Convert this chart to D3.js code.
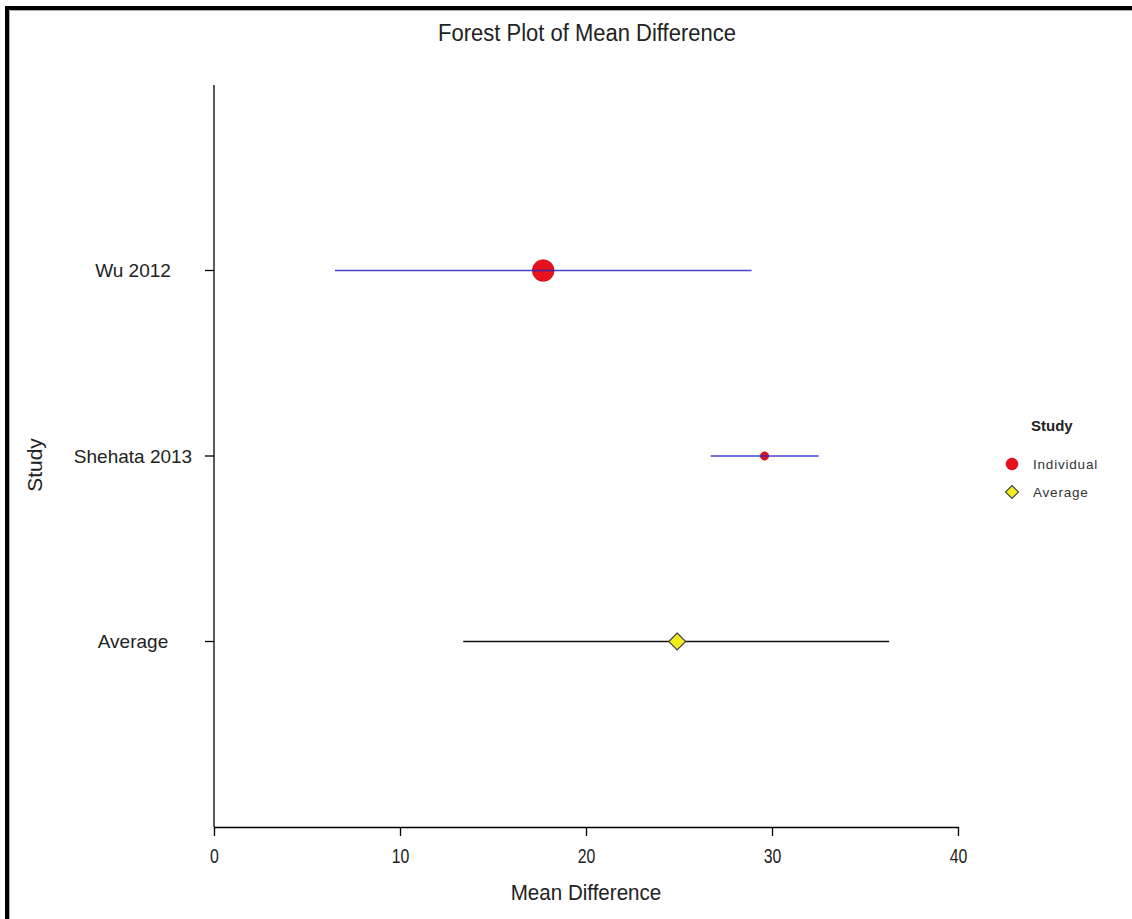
<!DOCTYPE html>
<html><head><meta charset="utf-8">
<script src="https://cdn.jsdelivr.net/npm/d3@7"></script>
<style>body{margin:0;background:#fff}svg{display:block}text{font-family:"Liberation Sans",Arial,sans-serif}</style>
</head><body>
<script>
const studies = ["Wu 2012", "Shehata 2013", "Average"];
const estimates = [17.7, 29.6, 24.9];
const lower = [6.5, 26.7, 13.4];
const upper = [28.9, 32.5, 36.3];
const weights = [0.92, 0.08, null];
const kinds = ["Individual", "Individual", "Average"];
const xTicks = [0, 10, 20, 30, 40];
const legendItems = ["Individual", "Average"];

(function(){
const W = 1132, H = 919;
const svg = d3.select("body").append("svg").attr("width", W).attr("height", H);
svg.append("rect").attr("width", W).attr("height", H).attr("fill", "#fff");
// frame
svg.append("path").attr("d", `M7,${H} V8 H${W}`).attr("fill", "none").attr("stroke", "#000").attr("stroke-width", 4);
svg.append("path").attr("d", `M9.5,${H} V10.5 H${W}`).attr("fill", "none").attr("stroke", "#aaa").attr("stroke-width", 1);

const mL = 214, mR = 958, mT = 85, mB = 827;
const x = d3.scaleLinear().domain([0, 40]).range([mL, mR]);
const y = d3.scaleLinear().domain([0, 4]).range([mB, mT]);
const yPos = i => y(studies.length - i);

// axes
const xAxis = d3.axisBottom(x).tickValues(xTicks).tickSize(9).tickSizeOuter(0);
const gx = svg.append("g").attr("transform", `translate(0,${mB})`).call(xAxis);
gx.select(".domain").attr("stroke", "#000").attr("stroke-width", 1.3);
gx.selectAll(".tick line").attr("stroke", "#000").attr("stroke-width", 1.3);
gx.selectAll(".tick text").attr("font-size", 18).attr("fill", "#222").attr("y", 0)
  .attr("dy", 0).attr("transform", "translate(0,36) scale(0.88,1.1)")
  .attr("font-family", "'Liberation Sans',Arial,sans-serif");

svg.append("line").attr("x1", mL).attr("x2", mL).attr("y1", mT).attr("y2", mB)
  .attr("stroke", "#000").attr("stroke-width", 1.3);
const yg = svg.append("g");
studies.forEach((s, i) => {
  yg.append("line").attr("x1", mL - 9).attr("x2", mL).attr("y1", yPos(i)).attr("y2", yPos(i))
    .attr("stroke", "#000").attr("stroke-width", 1.3);
  yg.append("text").attr("x", 133).attr("y", yPos(i)).attr("dy", "0.36em").attr("text-anchor", "middle")
    .attr("font-size", 19).attr("fill", "#222").text(s);
});

// CI lines and points
studies.forEach((s, i) => {
  const isAvg = kinds[i] === "Average";
  const cy = yPos(i);
  if (isAvg) {
    svg.append("line").attr("x1", x(lower[i])).attr("x2", x(upper[i])).attr("y1", cy).attr("y2", cy)
      .attr("stroke", "#111").attr("stroke-width", 1.5);
    const r = 8.5;
    const cx = x(estimates[i]);
    svg.append("path").attr("d", `M${cx},${cy - r} L${cx + r},${cy} L${cx},${cy + r} L${cx - r},${cy} Z`)
      .attr("fill", "#f2ec1c").attr("stroke", "#444").attr("stroke-width", 1.2);
  } else {
    const r = 3.5 + 8 * weights[i];
    svg.append("circle").attr("cx", x(estimates[i])).attr("cy", cy).attr("r", r)
      .attr("fill", "#e8121c").attr("stroke", "#b00").attr("stroke-width", 0.6);
    svg.append("line").attr("x1", x(lower[i])).attr("x2", x(upper[i])).attr("y1", cy).attr("y2", cy)
      .attr("stroke", "#2525c4").attr("stroke-width", 1.4).attr("stroke-opacity", 0.85);
  }
});

// titles
svg.append("text").attr("x", 587).attr("y", 41).attr("text-anchor", "middle").attr("font-size", 22)
  .attr("transform", "translate(587,41) scale(1.0,1.05) translate(-587,-41)")
  .attr("fill", "#222").text("Forest Plot of Mean Difference");
svg.append("text").attr("x", 586).attr("y", 900).attr("text-anchor", "middle").attr("font-size", 21)
  .attr("transform", "translate(586,900) scale(0.98,1.05) translate(-586,-900)")
  .attr("fill", "#222").text("Mean Difference");
svg.append("text").attr("transform", "translate(42,465) rotate(-90)").attr("text-anchor", "middle")
  .attr("font-size", 21).attr("fill", "#222").text("Study");

// legend
const lg = svg.append("g");
lg.append("text").attr("x", 1031).attr("y", 431).attr("font-size", 15).attr("font-weight", "bold")
  .attr("fill", "#222").text("Study");
legendItems.forEach((k, i) => {
  const cy = 464 + i * 28, cx = 1012;
  if (k === "Individual") {
    lg.append("circle").attr("cx", cx).attr("cy", cy).attr("r", 6).attr("fill", "#e8121c").attr("stroke", "#b00").attr("stroke-width", 0.6);
  } else {
    const r = 6.5;
    lg.append("path").attr("d", `M${cx},${cy - r} L${cx + r},${cy} L${cx},${cy + r} L${cx - r},${cy} Z`)
      .attr("fill", "#f2ec1c").attr("stroke", "#444").attr("stroke-width", 1.2);
  }
  lg.append("text").attr("x", 1033).attr("y", cy).attr("dy", "0.36em").attr("font-size", 13.5)
    .attr("letter-spacing", 0.8).attr("fill", "#333").text(k);
});
})();
</script>
</body></html>
